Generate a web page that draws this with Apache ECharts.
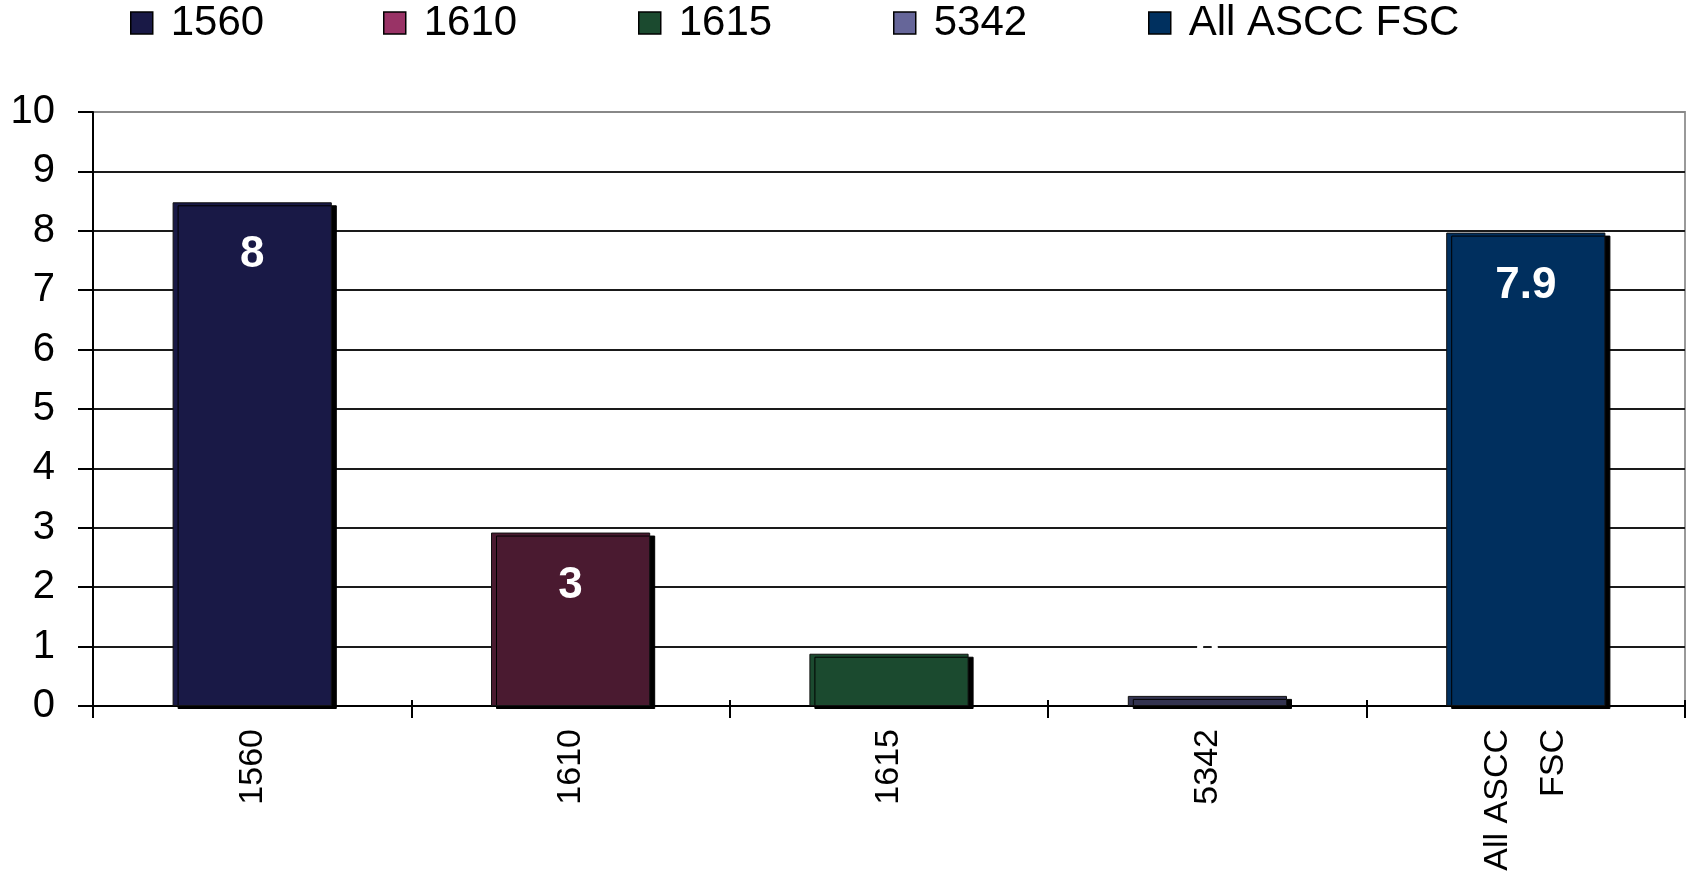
<!DOCTYPE html>
<html>
<head>
<meta charset="utf-8">
<script src="https://cdn.jsdelivr.net/npm/echarts@6/dist/echarts.min.js"></script>
<style>
html,body{margin:0;padding:0;background:#fff;}
#c{width:1694px;height:872px;}
</style>
</head>
<body>
<div id="c"></div>
<script>
const categories = ['1560', '1610', '1615', '5342', 'All ASCC\nFSC'];
const seriesNames = ['1560', '1610', '1615', '5342', 'All ASCC FSC'];
const values = [8.48, 2.92, 0.88, 0.17, 7.97];
const valueLabels = ['8', '3', '1', '0', '7.9'];
const yTicks = [0, 1, 2, 3, 4, 5, 6, 7, 8, 9, 10];

const barColors = ['#191946', '#4a1a30', '#1b4a2f', '#333350', '#002f5e'];
const legendColors = ['#191946', '#993366', '#1b4a2f', '#666699', '#00305f'];
const legendLeft = [130, 383, 638, 893, 1148];

const FONT = '"Liberation Sans", Arial, sans-serif';

const chart = echarts.init(document.getElementById('c'), null, {renderer: 'canvas'});

const series = seriesNames.map((name, i) => ({
  name: name,
  type: 'bar',
  stack: 'one',
  xAxisIndex: 0,
  barWidth: '50%',
  itemStyle: {color: legendColors[i]},
  data: categories.map((c, j) => {
    if (j !== i) return '-';
    const small = values[i] < 1.5;
    return {
      value: values[i],
      itemStyle: {
        color: barColors[i],
        borderColor: '#111',
        borderWidth: 1,
        shadowColor: '#000',
        shadowBlur: 0,
        shadowOffsetX: 5,
        shadowOffsetY: 3
      },
      label: {
        show: true,
        position: small ? 'top' : 'insideTop',
        distance: small ? 20 : 31,
        formatter: () => valueLabels[i],
        color: '#fff',
        fontFamily: FONT,
        fontWeight: 'bold',
        fontSize: 44
      }
    };
  })
}));

const legends = seriesNames.map((name, i) => ({
  show: true,
  left: legendLeft[i],
  top: 0,
  padding: 0,
  itemWidth: 22,
  itemHeight: 22,
  icon: 'rect',
  data: [{name: name, itemStyle: {color: legendColors[i], borderColor: '#000', borderWidth: 1.5}}],
  textStyle: {fontFamily: FONT, fontSize: 42, lineHeight: 46, color: '#000', padding: [0, 0, 0, 13]},
  selectedMode: false
}));

const splitColors = yTicks.map(v => v === 10 ? '#888888' : '#1a1a1a');

chart.setOption({
  animation: false,
  backgroundColor: '#fff',
  legend: legends,
  grid: {
    left: 93, right: 9, top: 112, bottom: 166,
    containLabel: false,
    outerBoundsMode: 'none',
    show: true, borderColor: '#999', borderWidth: 2, backgroundColor: 'transparent'
  },
  xAxis: [{
    type: 'category',
    data: categories,
    axisLine: {show: true, lineStyle: {color: '#000', width: 2}},
    axisTick: {show: true, alignWithLabel: false, length: 12, lineStyle: {color: '#000', width: 2}},
    axisLabel: {
      rotate: 90, margin: 23, color: '#000', fontFamily: FONT, fontSize: 34, lineHeight: 56,
      interval: 0
    },
    splitLine: {show: false}
  }, {
    type: 'category',
    position: 'bottom',
    data: categories,
    axisLine: {show: false},
    axisTick: {show: true, inside: true, length: 6, lineStyle: {color: '#000', width: 2}},
    axisLabel: {show: false},
    splitLine: {show: false}
  }],
  yAxis: {
    type: 'value',
    min: 0, max: 10, interval: 1,
    axisLine: {show: true, lineStyle: {color: '#000', width: 2}},
    axisTick: {show: true, length: 15, lineStyle: {color: '#000', width: 2}},
    axisLabel: {
      margin: 38, color: '#000', fontFamily: FONT, fontSize: 40,
      formatter: v => String(yTicks[yTicks.indexOf(v)])
    },
    splitLine: {show: true, lineStyle: {color: splitColors, width: 2}}
  },
  series: series
});
</script>
</body>
</html>
